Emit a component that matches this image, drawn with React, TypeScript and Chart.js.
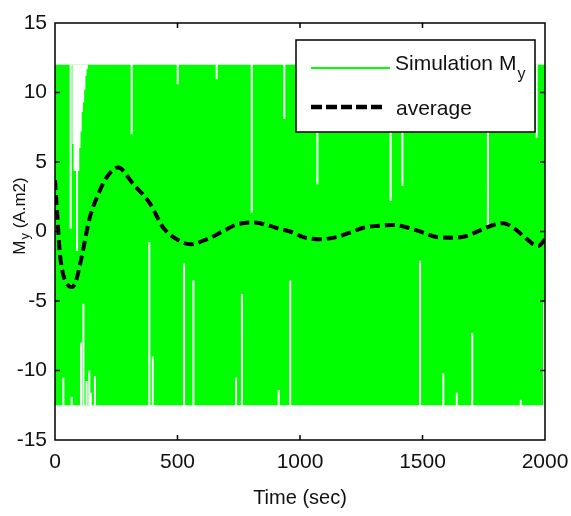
import React, { useEffect, useRef } from "react";
import { Chart, registerables } from "chart.js";

Chart.register(...registerables);

// ---- data ----
const xTickValues = [0, 500, 1000, 1500, 2000];
const yTickValues = [-15, -10, -5, 0, 5, 10, 15];

// simulated bang-bang signal envelope (switches between these levels)
const simTime = [0, 2000];
const simUpper = [12, 12];
const simLower = [-12.5, -12.5];

// moments where the signal stays low for a while (white gaps from the top level)
const topGapTime = [64, 313, 501, 660, 803, 936, 1071, 1370, 1418, 1767, 1966];
const topGapEnd = [0.2, 7.0, 10.6, 10.95, 1.35, 8.1, 3.4, 2.2, 3.3, 0.4, 6.75];

// early transient gap (wide white notch)
const notchTime = [75, 80, 85, 90, 95, 100, 105, 110, 115, 120, 125, 130];
const notchEnd = [6.3, 4.35, 4.35, -1.4, 4.35, 6.0, 7.2, 8.6, 9.3, 10.2, 11.2, 11.7];

// white gaps from the bottom level
const bottomGapTime = [34, 68, 106, 116, 129, 140, 146, 163, 385, 399, 527, 565, 739, 763, 913, 960, 1490, 1585, 1640, 1703, 1901, 1996];
const bottomGapEnd = [-10.5, -11.9, -8.0, -5.2, -10.75, -10.0, -11.6, -10.4, -0.76, -9.0, -2.3, -3.5, -10.5, -4.5, -11.4, -3.5, -2.1, -10.2, -11.6, -7.3, -12.1, -5.1];

// average
const avgTime = [0, 10, 20, 35, 55, 68, 85, 108, 142, 177, 211, 258, 320, 388, 442, 497, 551, 619, 687, 741, 810, 878, 918, 959, 1013, 1082, 1150, 1204, 1259, 1313, 1381, 1442, 1503, 1558, 1626, 1680, 1735, 1789, 1830, 1871, 1912, 1953, 1973, 2000];
const avgValue = [3.7, 1.0, -1.6, -3.2, -3.9, -4.0, -3.6, -1.9, 1.0, 2.7, 3.9, 4.6, 3.4, 2.0, 0.27, -0.56, -0.92, -0.56, 0.03, 0.5, 0.65, 0.4, 0.18, 0.0, -0.4, -0.56, -0.4, -0.08, 0.27, 0.4, 0.47, 0.27, -0.08, -0.4, -0.45, -0.32, 0.08, 0.47, 0.6, 0.27, -0.32, -0.92, -1.04, -0.56];

const FONT = '"Liberation Sans", Arial, sans-serif';
const GREEN = "#00ff00";

function segments(times: number[], ends: number[], base: number) {
  const pts: { x: number; y: number | null }[] = [];
  times.forEach((t, i) => {
    pts.push({ x: t, y: base });
    pts.push({ x: t, y: ends[i] });
    pts.push({ x: t, y: null });
  });
  return pts;
}

const boxPlugin = {
  id: "matlabBox",
  afterDatasetsDraw(chart: any) {
    const { ctx, chartArea: ca, scales } = chart;
    ctx.save();
    ctx.strokeStyle = "#000";
    ctx.lineWidth = 1.5;
    ctx.strokeRect(ca.left, ca.top, ca.right - ca.left, ca.bottom - ca.top);
    const tl = 5;
    ctx.beginPath();
    xTickValues.forEach((v) => {
      const px = scales.x.getPixelForValue(v);
      if (px <= ca.left + 1 || px >= ca.right - 1) return;
      ctx.moveTo(px, ca.bottom);
      ctx.lineTo(px, ca.bottom - tl);
      ctx.moveTo(px, ca.top);
      ctx.lineTo(px, ca.top + tl);
    });
    yTickValues.forEach((v) => {
      const py = scales.y.getPixelForValue(v);
      if (py <= ca.top + 1 || py >= ca.bottom - 1) return;
      ctx.moveTo(ca.left, py);
      ctx.lineTo(ca.left + tl, py);
      ctx.moveTo(ca.right, py);
      ctx.lineTo(ca.right - tl, py);
    });
    ctx.stroke();
    ctx.restore();
  },
  afterDraw(chart: any) {
    const { ctx, chartArea: ca } = chart;
    ctx.save();
    // legend box
    const w = 239, h = 92;
    const lx = ca.right - w - 10;
    const ly = ca.top + 17;
    ctx.fillStyle = "#fff";
    ctx.fillRect(lx, ly, w, h);
    ctx.strokeStyle = "#000";
    ctx.lineWidth = 1.5;
    ctx.strokeRect(lx, ly, w, h);
    // green entry
    ctx.strokeStyle = GREEN;
    ctx.lineWidth = 2;
    ctx.beginPath();
    ctx.moveTo(lx + 15, ly + 28);
    ctx.lineTo(lx + 94, ly + 28);
    ctx.stroke();
    ctx.fillStyle = "#111";
    ctx.textBaseline = "alphabetic";
    ctx.textAlign = "left";
    ctx.font = `21px ${FONT}`;
    const t1 = "Simulation M";
    ctx.fillText(t1, lx + 99, ly + 30);
    const w1 = ctx.measureText(t1).width;
    ctx.font = `16px ${FONT}`;
    ctx.fillText("y", lx + 99 + w1 + 1, ly + 39);
    // dashed entry
    ctx.strokeStyle = "#000";
    ctx.lineWidth = 4.5;
    ctx.setLineDash([11, 4]);
    ctx.beginPath();
    ctx.moveTo(lx + 15, ly + 67);
    ctx.lineTo(lx + 88, ly + 67);
    ctx.stroke();
    ctx.setLineDash([]);
    ctx.font = `21px ${FONT}`;
    ctx.fillText("average", lx + 100, ly + 75);

    // y axis title with subscript
    ctx.save();
    ctx.translate(25, 216);
    ctx.rotate(-Math.PI / 2);
    ctx.font = `17px ${FONT}`;
    const mW = ctx.measureText("M").width;
    ctx.font = `13px ${FONT}`;
    const yW = ctx.measureText("y").width;
    ctx.font = `17px ${FONT}`;
    const rest = " (A.m2)";
    const rW = ctx.measureText(rest).width;
    const total = mW + yW + 1 + rW;
    const x0 = -total / 2;
    ctx.fillText("M", x0, 0);
    ctx.font = `13px ${FONT}`;
    ctx.fillText("y", x0 + mW + 1, 4);
    ctx.font = `17px ${FONT}`;
    ctx.fillText(rest, x0 + mW + 1 + yW, 0);
    ctx.restore();
    ctx.restore();
  },
};

export default function App() {
  const ref = useRef<HTMLCanvasElement>(null);
  useEffect(() => {
    document.body.style.margin = "0";
    const chart = new Chart(ref.current!, {
      type: "line",
      data: {
        datasets: [
          {
            label: "average",
            data: avgTime.map((t, i) => ({ x: t, y: avgValue[i] })),
            borderColor: "#000",
            borderWidth: 4,
            borderDash: [10, 5],
            pointRadius: 0,
            cubicInterpolationMode: "monotone",
            fill: false,
            order: 0,
          },
          {
            label: "gapsTop",
            data: segments(topGapTime, topGapEnd, simUpper[0]),
            borderColor: "#fff",
            borderWidth: 2,
            pointRadius: 0,
            spanGaps: false,
            fill: false,
            order: 1,
          },
          {
            label: "gapsBottom",
            data: segments(bottomGapTime, bottomGapEnd, simLower[0]),
            borderColor: "#fff",
            borderWidth: 2,
            pointRadius: 0,
            spanGaps: false,
            fill: false,
            order: 1,
          },
          {
            label: "notch",
            data: segments(notchTime, notchEnd, simUpper[0]),
            borderColor: "#fff",
            borderWidth: 2,
            pointRadius: 0,
            spanGaps: false,
            fill: false,
            order: 1,
          },
          {
            label: "Simulation My",
            data: simTime.map((t, i) => ({ x: t, y: simUpper[i] })),
            borderColor: GREEN,
            backgroundColor: GREEN,
            borderWidth: 0,
            pointRadius: 0,
            fill: "+1",
            order: 2,
          },
          {
            label: "lower",
            data: simTime.map((t, i) => ({ x: t, y: simLower[i] })),
            borderColor: GREEN,
            borderWidth: 0,
            pointRadius: 0,
            fill: false,
            order: 3,
          },
        ],
      },
      options: {
        animation: false,
        responsive: true,
        maintainAspectRatio: false,
        layout: { padding: { top: 23, right: 26, left: 0, bottom: 0 } },
        plugins: { legend: { display: false }, tooltip: { enabled: false } },
        scales: {
          x: {
            type: "linear",
            min: 0,
            max: 2000,
            afterBuildTicks: (s: any) => {
              s.ticks = xTickValues.map((v) => ({ value: v }));
            },
            afterFit: (s: any) => {
              s.height = 76;
            },
            grid: { display: false },
            border: { display: false },
            ticks: {
              color: "#111",
              font: { family: FONT, size: 21 },
              padding: 2,
              maxRotation: 0,
              callback: (v: any) => String(v),
            },
            title: {
              display: true,
              text: "Time (sec)",
              color: "#111",
              font: { family: FONT, size: 20 },
              padding: { top: 0, bottom: 6 },
            },
          },
          y: {
            type: "linear",
            min: -15,
            max: 15,
            afterBuildTicks: (s: any) => {
              s.ticks = yTickValues.map((v) => ({ value: v }));
            },
            afterFit: (s: any) => {
              s.width = 55;
            },
            grid: { display: false },
            border: { display: false },
            ticks: {
              color: "#111",
              font: { family: FONT, size: 21 },
              padding: 0,
              callback: (v: any) => String(v),
            },
          },
        },
      },
      plugins: [boxPlugin],
    } as any);
    return () => chart.destroy();
  }, []);
  return (
    <div style={{ position: "fixed", left: 0, top: 0, width: 571, height: 516 }}>
      <canvas ref={ref} />
    </div>
  );
}
